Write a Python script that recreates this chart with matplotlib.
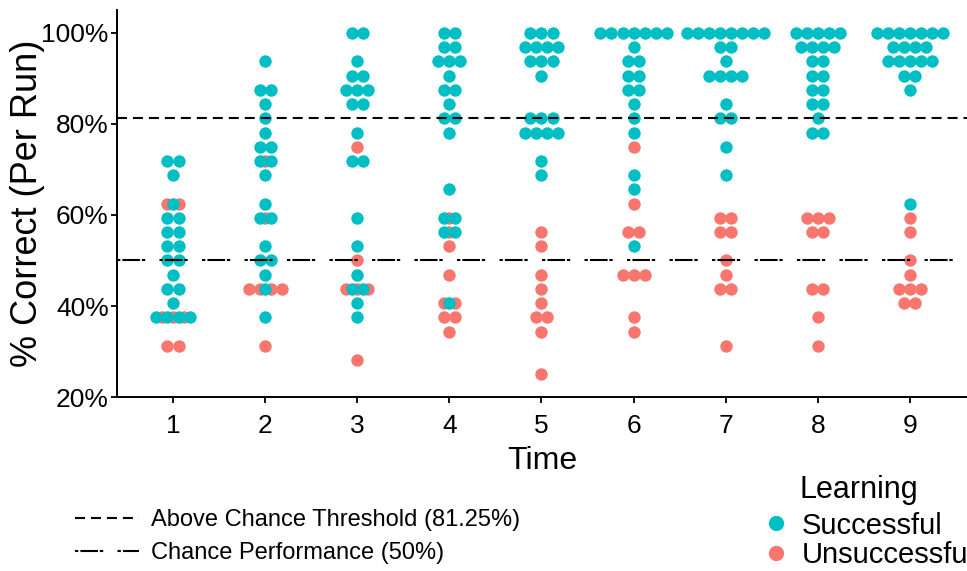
#!/usr/bin/env python3
"""Dot plot of % correct per run across time, split by learning outcome."""

from collections import Counter

import matplotlib

matplotlib.use("Agg")
import matplotlib.pyplot as plt
import numpy as np
from matplotlib.lines import Line2D
from matplotlib.ticker import FuncFormatter

plt.rcParams["font.family"] = ["Liberation Sans", "DejaVu Sans"]
plt.rcParams["lines.scale_dashes"] = False

N_TRIALS = 32
TIMES = [1, 2, 3, 4, 5, 6, 7, 8, 9]

# number of correct trials (out of 32) per participant, one list per time point
successful_scores = [
    [23, 23, 22, 20, 19, 19, 18, 18, 17, 17, 16, 16, 15, 14, 14, 13, 12, 12, 12, 12],
    [30, 28, 28, 27, 26, 25, 24, 24, 23, 23, 22, 20, 19, 19, 17, 16, 16, 15, 14, 12],
    [32, 32, 30, 29, 29, 28, 28, 28, 27, 27, 25, 23, 23, 19, 17, 15, 14, 14, 13, 12],
    [32, 32, 31, 31, 30, 30, 30, 29, 28, 28, 27, 26, 26, 25, 21, 19, 19, 18, 18, 13],
    [32, 32, 32, 31, 31, 31, 31, 30, 30, 30, 29, 26, 26, 26, 25, 25, 25, 25, 23, 22],
    [32, 32, 32, 32, 32, 32, 32, 31, 30, 30, 29, 29, 28, 28, 27, 26, 25, 22, 21, 17],
    [32, 32, 32, 32, 32, 32, 32, 32, 31, 31, 30, 29, 29, 29, 29, 27, 26, 26, 24, 22],
    [32, 32, 32, 32, 32, 31, 31, 31, 31, 30, 30, 29, 29, 28, 28, 27, 27, 26, 25, 25],
    [32, 32, 32, 32, 32, 32, 32, 31, 31, 31, 31, 30, 30, 30, 30, 30, 29, 29, 28, 20],
]
unsuccessful_scores = [
    [20, 20, 12, 12, 12, 10, 10],
    [23, 19, 14, 14, 14, 14, 10],
    [24, 16, 14, 14, 14, 9],
    [19, 18, 17, 15, 13, 13, 12, 12, 11],
    [18, 17, 15, 14, 13, 12, 12, 11, 8],
    [24, 20, 18, 18, 15, 15, 15, 12, 11],
    [19, 19, 18, 18, 16, 15, 14, 14, 10],
    [19, 19, 19, 18, 18, 14, 14, 12, 10],
    [19, 18, 16, 15, 14, 14, 14, 13, 13],
]

THRESHOLD = 81.25
CHANCE = 50.0

TEAL = "#00BFC4"
SALMON = "#F8766D"
DASHED = (0, (7.2, 4.3))
DOTDASH = (0, (2.4, 1.5, 12.7, 1.3, 2.4, 10.3))


def stack_dots(x0, scores, step=0.12):
    xs, ys = [], []
    for k, n in sorted(Counter(scores).items()):
        offsets = (np.arange(n) - (n - 1) / 2) * step
        xs.extend(x0 + offsets)
        ys.extend([k / N_TRIALS * 100] * n)
    return np.array(xs), np.array(ys)


fig = plt.figure(figsize=(9.67, 5.71), dpi=100)
ax = fig.add_axes([0.121, 0.3047, 0.879, 0.6778])

for t, fail in zip(TIMES, unsuccessful_scores):
    x, y = stack_dots(t, fail)
    ax.scatter(x, y, s=80, color=SALMON, linewidths=0, zorder=2)
for t, succ in zip(TIMES, successful_scores):
    x, y = stack_dots(t, succ)
    ax.scatter(x, y, s=80, color=TEAL, linewidths=0, zorder=3)

ax.axhline(THRESHOLD, color="black", lw=1.5, linestyle=DASHED, zorder=4)
ax.axhline(CHANCE, color="black", lw=1.5, linestyle=DOTDASH, zorder=4)

ax.set_xlim(0.392, 9.62)
ax.set_ylim(20, 105.05)
ax.set_xticks(TIMES)
ax.set_yticks([20, 40, 60, 80, 100])
ax.yaxis.set_major_formatter(FuncFormatter(lambda v, _: f"{v:.0f}%"))
ax.tick_params(labelsize=19, length=4, width=1.3, colors="black", pad=2)
ax.tick_params(axis="x", pad=8)
for side in ("top", "right"):
    ax.spines[side].set_visible(False)
for side in ("left", "bottom"):
    ax.spines[side].set_linewidth(1.4)
ax.set_xlabel("Time", fontsize=23, labelpad=6)
ax.set_ylabel("% Correct (Per Run)", fontsize=26, labelpad=-3)

line_handles = [
    Line2D([], [], color="black", lw=1.5, linestyle=DASHED),
    Line2D([], [], color="black", lw=1.5, linestyle=DOTDASH),
]
fig.legend(
    line_handles,
    ["Above Chance Threshold (81.25%)", "Chance Performance (50%)"],
    loc="upper left",
    bbox_to_anchor=(0.0776, 0.108),
    bbox_transform=fig.transFigure,
    frameon=False,
    fontsize=17,
    handlelength=2.7,
    handletextpad=0.5,
    labelspacing=0.45,
    borderaxespad=0,
    borderpad=0,
)

point_handles = [
    Line2D([], [], marker="o", linestyle="none", color=TEAL, markersize=10),
    Line2D([], [], marker="o", linestyle="none", color=SALMON, markersize=10),
]
fig.text(0.827, 0.141, "Learning", fontsize=22, va="center", ha="left")
fig.legend(
    point_handles,
    ["Successful", "Unsuccessful"],
    loc="upper left",
    bbox_to_anchor=(0.787, 0.104),
    bbox_transform=fig.transFigure,
    frameon=False,
    fontsize=21,
    handlelength=1.0,
    handletextpad=0.4,
    labelspacing=0.05,
    borderaxespad=0,
    borderpad=0,
)

fig.savefig("out.png", dpi=100)
